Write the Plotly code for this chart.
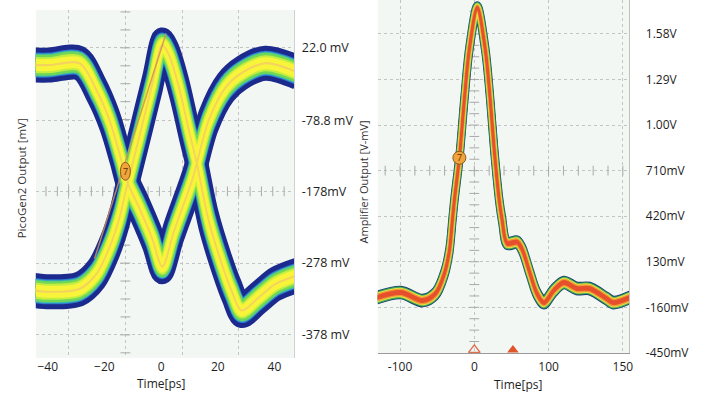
import plotly.graph_objects as go

REF_W, REF_H = 703, 394      # reference picture size (layout positions are given in these pixels)
FIG_W, FIG_H = 703, 403      # page is captured a little taller than 394, so fill it

# ---------------- data ----------------
# Left panel: eye diagram, two complementary traces (time in ps, level in mV)
eye_time_a = [-45, -39.3, -28.8, -22.8, -18.2, -14.7, -11.9, -7.7, -3.2, 0.4, 4.6, 10.9, 12.6, 16.8, 22.8, 28.4, 36.8, 48]
eye_mv_a = [-2, -2, 0.6, -37, -79, -125, -165, -201, -243, -283, -233, -163, -139, -79, -33, -13, 0.6, -12]

eye_time_b = [-45, -39.3, -28.8, -22.8, -18.2, -14.7, -12.3, -7.7, -3.2, 0.4, 2.8, 6.3, 9.8, 12.6, 16.8, 21.4, 24.9, 28.4, 34.4, 40.4, 48]
eye_mv_b = [-316, -318, -314, -293, -256, -215, -175, -102, -30, 26, 12, -33, -93, -139, -219, -279, -317, -344, -326, -307, -295]

edge_line_time = [-23.5, 1.75]
edge_line_mv = [-272, 42]

# Right panel: amplifier pulse (time in ps, level in mV)
pulse_time = [-135, -99, -69.6, -52.2, -40.2, -33.5, -29.5, -26.8, -20.1, -13.4, -6.7, 4, 14.7, 21.4, 26.8, 33.5,
              37.5, 44.2, 57.6, 64.3, 75, 84.3, 93.7, 107, 120.5, 138, 155, 178, 187, 212]
pulse_mv = [-104, -66, -117, -72, 56, 203, 395, 523, 792, 1163, 1483, 1745, 1483, 1163, 843, 523,
            395, 248, 255, 210, 56, -72, -130, -53, -2, -40, -40, -104, -130, -92]

# Ticks / labels
left_xtick_vals = [-40, -20, 0, 20, 40]
left_ytick_vals = [22.0, -78.8, -178, -278, -378]
left_ytick_text = ["22.0 mV", "-78.8 mV", "-178mV", "-278 mV", "-378 mV"]
left_vgrid = [-32.6, -12.6, 7.4, 27.4]
left_center = (-12.6, -178)

right_xtick_vals = [-100, 0, 100, 200]
right_xtick_text = ["-100", "0", "100", "150"]
right_ytick_vals = [1580, 1290, 1000, 710, 420, 130, -160, -450]
right_ytick_text = ["1.58V", "1.29V", "1.00V", "710mV", "420mV", "130mV", "-160mV", "-450mV"]
right_center = (0, 710)

marker7_left = (-12.6, -150)
marker7_right = (-20.1, 792)
trig_open_time = [0]
trig_fill_time = [52]

# ---------------- layout geometry (reference pixels) ----------------
L_X0, L_X1, L_TOP, L_BOT = 36, 296, 10, 357
R_X0, R_X1, R_TOP, R_BOT = 380, 633, 0, 352
L_XR = [-44.2, 47.0]
L_YR = [-410.1, 74.7]
R_XR = [-129.9, 208.8]
R_YR = [-450, 1796]

def dx(a, b):
    return [a / REF_W, b / REF_W]

def dy(top, bot):
    return [1 - bot / REF_H, 1 - top / REF_H]

l_mv_px = (L_YR[1] - L_YR[0]) / (L_BOT - L_TOP)
r_mv_px = (R_YR[1] - R_YR[0]) / (R_BOT - R_TOP)

# (colour, line width px, vertical half-offset px)
left_layers = [("#1b2a8c", 20, 7.5), ("#2f74d0", 13, 6.0), ("#36b8b0", 12, 5.5),
               ("#6fd65a", 11, 5.0), ("#c2ee40", 9, 3.5), ("#f8f43a", 7, 2.5), ("#f4d35e", 1.5, 0.3)]
right_layers = [("#1d3c6e", 8, 2.8), ("#3aa65a", 7, 2.4), ("#e3e23e", 5.5, 2.1),
                ("#f39a38", 4, 1.8), ("#e6502c", 2.5, 1.2)]

fig = go.Figure()

def band(xs, ys, color, w, d_units, xa, ya):
    up = [v + d_units for v in ys]
    lo = [v - d_units for v in ys]
    fig.add_trace(go.Scatter(x=xs, y=up, mode="lines", line=dict(color=color, width=w, shape="spline", smoothing=0.9),
                             xaxis=xa, yaxis=ya, hoverinfo="skip", showlegend=False))
    fig.add_trace(go.Scatter(x=xs, y=lo, mode="lines", line=dict(color=color, width=w, shape="spline", smoothing=0.9),
                             fill="tonexty", fillcolor=color,
                             xaxis=xa, yaxis=ya, hoverinfo="skip", showlegend=False))

# centre-line tick marks (graticule)
def center_ticks(cx, cy, xr, yr, xstep, ystep, xa, ya):
    ys = [cy + k * ystep for k in range(-60, 61) if yr[0] < cy + k * ystep < yr[1]]
    xs = [cx + k * xstep for k in range(-60, 61) if xr[0] < cx + k * xstep < xr[1]]
    fig.add_trace(go.Scatter(x=[cx] * len(ys), y=ys, mode="markers",
                             marker=dict(symbol="line-ew", size=7, line=dict(color="#a9a9a9", width=1)),
                             xaxis=xa, yaxis=ya, hoverinfo="skip", showlegend=False))
    fig.add_trace(go.Scatter(x=xs, y=[cy] * len(xs), mode="markers",
                             marker=dict(symbol="line-ns", size=7, line=dict(color="#a9a9a9", width=1)),
                             xaxis=xa, yaxis=ya, hoverinfo="skip", showlegend=False))

center_ticks(left_center[0], left_center[1], L_XR, L_YR, 4, 25, "x", "y")
center_ticks(right_center[0], right_center[1], R_XR, R_YR, 20, 72.5, "x2", "y2")

for color, w, d in left_layers:
    band(eye_time_a, eye_mv_a, color, w, d * l_mv_px, "x", "y")
    band(eye_time_b, eye_mv_b, color, w, d * l_mv_px, "x", "y")

fig.add_trace(go.Scatter(x=edge_line_time, y=edge_line_mv, mode="lines",
                         line=dict(color="#c9935a", width=1.5), opacity=0.85,
                         xaxis="x", yaxis="y", hoverinfo="skip", showlegend=False))

for color, w, d in right_layers:
    band(pulse_time, pulse_mv, color, w, d * r_mv_px, "x2", "y2")

# label-only overlay axis for the left time scale
fig.add_trace(go.Scatter(x=[None], y=[None], xaxis="x3", yaxis="y", hoverinfo="skip", showlegend=False))

# trigger markers on the right time axis
trig_y = R_YR[0] + 3 * r_mv_px
fig.add_trace(go.Scatter(x=trig_open_time, y=[trig_y], mode="markers", cliponaxis=False,
                         marker=dict(symbol="triangle-up-open", size=10, color="#e07050", line=dict(width=1.5)),
                         xaxis="x2", yaxis="y2", hoverinfo="skip", showlegend=False))
fig.add_trace(go.Scatter(x=trig_fill_time, y=[trig_y], mode="markers", cliponaxis=False,
                         marker=dict(symbol="triangle-up", size=10, color="#e0552a"),
                         xaxis="x2", yaxis="y2", hoverinfo="skip", showlegend=False))

shapes = []
annotations = []
for (mx, my), xr, yr, hw, hh in [(marker7_left, "x", "y", 5, 9), (marker7_right, "x2", "y2", 6.5, 6.5)]:
    shapes.append(dict(type="circle", xref=xr, yref=yr, xsizemode="pixel", ysizemode="pixel",
                       xanchor=mx, yanchor=my, x0=-hw, x1=hw, y0=-hh, y1=hh,
                       fillcolor="#f2a43c", line=dict(color="#8a5a1e", width=1)))
    annotations.append(dict(x=mx, y=my, xref=xr, yref=yr, text="7", showarrow=False,
                            font=dict(size=9, color="#5a3000", family="Open Sans")))

TICKFONT = dict(family="Open Sans", size=12.5, color="#1e1e1e")
TICKFONT_X = dict(family="Open Sans", size=12, color="#1e1e1e")
TICKFONT_R = dict(family="Open Sans", size=12, color="#1e1e1e")
GRID = "#c4c4c4"

annotations += [
    dict(text="Time[ps]", x=162 / REF_W, y=1 - 383 / REF_H, xref="paper", yref="paper", showarrow=False,
         xanchor="center", yanchor="middle", font=dict(family="Open Sans", size=12, color="#1e1e1e")),
    dict(text="Time[ps]", x=521 / REF_W, y=1 - 384 / REF_H, xref="paper", yref="paper", showarrow=False,
         xanchor="center", yanchor="middle", font=dict(family="Open Sans", size=12, color="#1e1e1e")),
    dict(text="PicoGen2 Output [mV]", x=22 / REF_W, y=1 - 178 / REF_H, xref="paper", yref="paper",
         xanchor="center", yanchor="middle", showarrow=False, textangle=-90,
         font=dict(family="Open Sans", size=11.5, color="#333333")),
    dict(text="Amplifier Output [V-mV]", x=366 / REF_W, y=1 - 181 / REF_H, xref="paper", yref="paper",
         xanchor="center", yanchor="middle", showarrow=False, textangle=-90,
         font=dict(family="Open Sans", size=11, color="#333333")),
]

fig.update_layout(
    width=FIG_W, height=FIG_H, margin=dict(l=0, r=0, t=0, b=0),
    paper_bgcolor="white", plot_bgcolor="#f3f7f4", showlegend=False,
    shapes=shapes, annotations=annotations,
    xaxis=dict(domain=dx(L_X0, L_X1), range=L_XR, anchor="y", tickmode="array", tickvals=left_vgrid,
               showticklabels=False, showgrid=True, gridcolor=GRID, griddash="dot", zeroline=False, ticks=""),
    xaxis3=dict(overlaying="x", anchor="y", range=L_XR, tickmode="array", tickvals=left_xtick_vals,
                showgrid=False, zeroline=False, ticks="", tickfont=TICKFONT_X, ticklabelstandoff=0),
    yaxis=dict(domain=dy(L_TOP, L_BOT), range=L_YR, anchor="x", side="right", tickmode="array",
               tickvals=left_ytick_vals, ticktext=left_ytick_text, showgrid=True, gridcolor=GRID,
               griddash="dot", zeroline=False, ticks="", tickfont=TICKFONT, ticklabelstandoff=4,
               showline=True, linecolor="#d0d0d0", linewidth=1),
    xaxis2=dict(domain=dx(R_X0, R_X1), range=R_XR, anchor="y2", tickmode="array", tickvals=right_xtick_vals,
                ticktext=right_xtick_text, showgrid=True, gridcolor=GRID, griddash="dot", zeroline=False,
                ticks="", tickfont=TICKFONT_R, ticklabelstandoff=3, showline=True, linecolor="#9a9a9a", linewidth=1),
    yaxis2=dict(domain=dy(R_TOP, R_BOT), range=R_YR, anchor="x2", side="right", tickmode="array",
                tickvals=right_ytick_vals, ticktext=right_ytick_text, showgrid=True, gridcolor=GRID,
                griddash="dot", zeroline=False, ticks="", tickfont=TICKFONT_R, ticklabelstandoff=13,
                showline=True, linecolor="#c0c0c0", linewidth=1),
)

page_css = ("var s=document.createElement('style');"
            "s.innerHTML='html,body{margin:0;padding:0;overflow:hidden;}';"
            "document.head.appendChild(s);")
fig.write_html("out.html", config={"displayModeBar": False}, post_script=page_css)
